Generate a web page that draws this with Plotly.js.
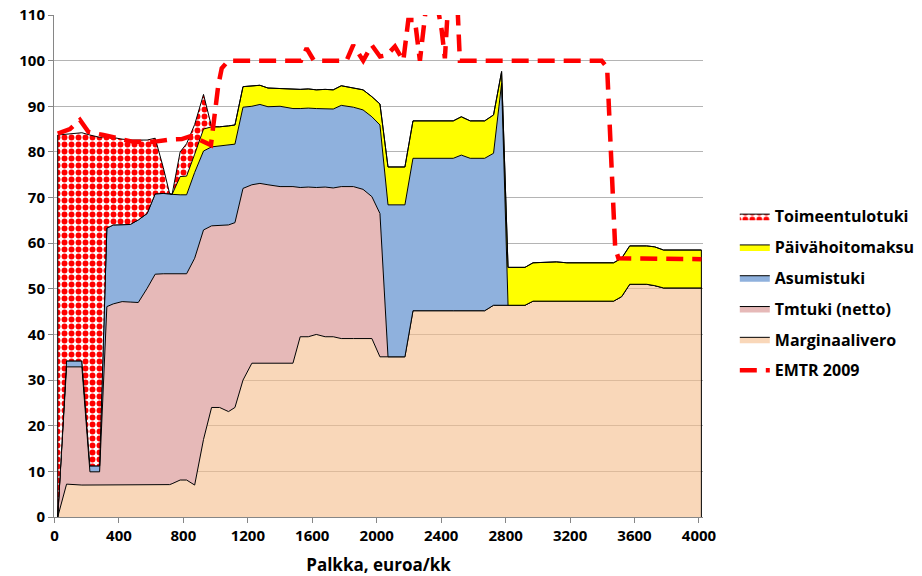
<!DOCTYPE html>
<html>
<head>
<meta charset="utf-8">
<script src="https://cdn.plot.ly/plotly-3.0.1.min.js"></script>
<style>
  html, body { margin: 0; padding: 0; background: #ffffff; }
  #chart { width: 922px; height: 576px; }
</style>
</head>
<body>
<div id="chart"></div>
<script>
// Palkka (euroa/kk) – common x values for all stacked layers
const palkka = [20, 75, 170, 220, 280, 325, 365, 420, 470, 520, 575, 625, 675, 715, 730, 780, 820, 870, 925, 975,
  1025, 1080, 1120, 1170, 1225, 1275, 1325, 1400, 1480, 1525, 1575, 1625, 1680, 1730, 1780, 1855, 1915, 1970, 2020, 2070,
  2175, 2225, 2475, 2525, 2580, 2670, 2725, 2775, 2815, 2920, 2970, 3115, 3180, 3470, 3520, 3570, 3675, 3725, 3780, 4015];

// Layer values (percentage points)
const marginaalivero = [0, 7.2, 7.0, 7.0, 7.0, 7.0, 7.0, 7.1, 7.1, 7.1, 7.1, 7.1, 7.1, 7.1, 7.3, 8.1, 8.1, 7.0, 17.0, 24.0,
  24.0, 23.1, 24.0, 30.0, 33.7, 33.7, 33.7, 33.7, 33.7, 39.5, 39.5, 40.0, 39.5, 39.5, 39.1, 39.1, 39.1, 39.1, 35.1, 35.1,
  35.1, 45.2, 45.2, 45.2, 45.2, 45.2, 46.4, 46.4, 46.4, 46.4, 47.3, 47.3, 47.3, 47.3, 48.3, 51.0, 51.0, 50.7, 50.2, 50.2];

const tmtuki = [0, 25.7, 25.9, 2.9, 2.9, 39.1, 39.7, 40.1, 40.0, 39.9, 43.0, 46.1, 46.2, 46.2, 46.0, 45.3, 45.2, 49.7, 45.9, 39.8,
  39.9, 40.9, 40.5, 42.0, 39.1, 39.4, 39.1, 38.7, 38.7, 32.7, 32.8, 32.2, 32.8, 32.6, 33.3, 33.3, 32.7, 31.1, 31.4, 0,
  0, 0, 0, 0, 0, 0, 0, 0, 0, 0, 0, 0, 0, 0, 0, 0, 0, 0, 0, 0];

const asumistuki = [0, 1.3, 1.3, 1.3, 1.3, 17.2, 17.3, 16.9, 17.0, 18.1, 16.4, 17.6, 17.6, 17.5, 17.4, 17.2, 17.3, 18.8, 17.3, 17.3,
  17.4, 17.4, 17.2, 17.8, 17.2, 17.3, 17.1, 17.6, 17.1, 17.3, 17.3, 17.3, 17.2, 17.3, 17.8, 17.4, 17.4, 17.5, 19.4, 33.3,
  33.3, 33.4, 33.4, 34.1, 33.4, 33.4, 33.3, 48.6, 0, 0, 0, 0, 0, 0, 0, 0, 0, 0, 0, 0];

const paivahoitomaksu = [0, 0, 0, 0, 0, 0, 0, 0, 0, 0, 0, 0, 0, 0, 0, 4.0, 4.1, 4.0, 4.8, 4.4,
  4.2, 4.3, 4.2, 4.5, 4.4, 4.2, 4.1, 3.9, 4.3, 4.2, 4.2, 4.1, 4.2, 4.2, 4.3, 4.2, 4.4, 4.4, 4.6, 8.3,
  8.3, 8.2, 8.2, 8.4, 8.2, 8.2, 8.4, 2.6, 8.3, 8.3, 8.4, 8.6, 8.4, 8.4, 8.4, 8.4, 8.4, 8.5, 8.3, 8.3];

const toimeentulotuki = [83.7, 49.7, 50.0, 72.5, 72.0, 20.1, 19.1, 18.7, 18.5, 17.5, 16.1, 12.2, 5.7, 0, 0, 5.4, 7.1, 6.5, 7.6, 0,
  0, 0, 0, 0, 0, 0, 0, 0, 0, 0, 0, 0, 0, 0, 0, 0, 0, 0, 0, 0,
  0, 0, 0, 0, 0, 0, 0, 0, 0, 0, 0, 0, 0, 0, 0, 0, 0, 0, 0, 0];

// EMTR 2009 line
const emtrX = [20, 96, 158, 210, 303, 394, 489, 613, 717, 790, 850, 971, 996, 1017, 1038, 1079,
  1530, 1565, 1610, 1813, 1854, 1916, 1969, 2020, 2062, 2113, 2165, 2196, 2237, 2268, 2310, 2372, 2403, 2423,
  2444, 2500, 2516, 3396, 3430, 3480, 3500, 4015];
const emtrY = [84.0, 85.0, 87.0, 84.4, 83.7, 83.0, 82.2, 82.2, 82.7, 82.8, 83.5, 81.5, 89.2, 94.7, 98.3, 100.0,
  100.0, 102.7, 100.0, 100.0, 103.4, 100.0, 103.4, 100.9, 101.2, 103.1, 100.0, 108.9, 108.9, 100.0, 113, 113, 106.7, 100.5,
  113, 113, 100.0, 100.0, 98.5, 59.0, 56.7, 56.5];

const xTicks = [0, 400, 800, 1200, 1600, 2000, 2400, 2800, 3200, 3600, 4000];
const yTicks = [0, 10, 20, 30, 40, 50, 60, 70, 80, 90, 100, 110];

const edge = {color: '#000000', width: 1};

function layer(name, values, rank, fill) {
  const t = {
    type: 'scatter', mode: 'lines', name: name, x: palkka, y: values,
    stackgroup: 'one', line: edge, legendrank: rank, legendgroup: name,
    hoverinfo: 'x+y+name'
  };
  return Object.assign(t, fill);
}

const traces = [
  layer('Marginaalivero', marginaalivero, 5, {fillcolor: 'rgba(245,190,142,0.62)'}),
  layer('Tmtuki (netto)', tmtuki, 4, {fillcolor: '#E6B9B8'}),
  layer('Asumistuki', asumistuki, 3, {fillcolor: '#8FB1DD'}),
  layer('Päivähoitomaksu', paivahoitomaksu, 2, {fillcolor: '#FFFF00'}),
  layer('Toimeentulotuki', toimeentulotuki, 1, {
    fillcolor: '#FF0000',
    fillpattern: {shape: '.', bgcolor: '#FFFFFF', fgcolor: '#FF0000', size: 7, solidity: 0.55}
  })
];

// closing vertical edges of the stacked area (from the data)
const n = palkka.length - 1;
const total = i => marginaalivero[i] + tmtuki[i] + asumistuki[i] + paivahoitomaksu[i] + toimeentulotuki[i];
traces.push({
  type: 'scatter', mode: 'lines', x: [palkka[0], palkka[0], null, palkka[n], palkka[n]],
  y: [0, total(0), null, 0, total(n)], line: edge, showlegend: false, hoverinfo: 'skip'
});

traces.push({
  type: 'scatter', mode: 'lines', name: 'EMTR 2009', x: emtrX, y: emtrY,
  line: {color: '#FF0000', width: 4.5, dash: '17px,9px'}, legendrank: 6, legendgroup: 'emtr'
});

const layout = {
  width: 922, height: 576,
  margin: {l: 54, r: 219, t: 15, b: 59, autoexpand: false},
  paper_bgcolor: '#FFFFFF', plot_bgcolor: '#FFFFFF',
  font: {family: 'Open Sans, Arial, sans-serif', size: 15, color: '#000000', weight: 'bold'},
  showlegend: true,
  legend: {
    x: 1.049, xanchor: 'left', y: 0.633, yanchor: 'top',
    font: {size: 16, weight: 'bold'}, traceorder: 'grouped', tracegroupgap: 7,
    bgcolor: 'rgba(0,0,0,0)', itemwidth: 30
  },
  xaxis: {
    range: [-3, 4025], tickvals: xTicks, ticktext: xTicks.map(String),
    showgrid: false, zeroline: false, showline: true, linecolor: '#868686', linewidth: 1,
    ticks: 'outside', ticklen: 5, tickcolor: '#868686',
    tickfont: {size: 15, weight: 'bold'},
    title: {text: 'Palkka, euroa/kk', font: {size: 17, weight: 'bold'}, standoff: 17}
  },
  yaxis: {
    range: [0, 110], tickvals: yTicks, ticktext: yTicks.map(String),
    showgrid: true, gridcolor: '#B4B4B4', gridwidth: 1, zeroline: false,
    showline: true, linecolor: '#868686', linewidth: 1,
    ticks: 'outside', ticklen: 5, tickcolor: '#868686',
    tickfont: {size: 15, weight: 'bold'}
  },
  hovermode: false
};

Plotly.newPlot('chart', traces, layout, {staticPlot: true, displayModeBar: false});
</script>
</body>
</html>
